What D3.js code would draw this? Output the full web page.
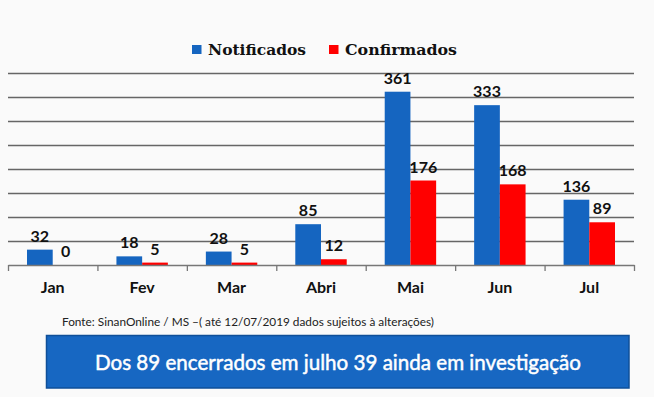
<!DOCTYPE html>
<html><head><meta charset="utf-8">
<script src="https://cdn.jsdelivr.net/npm/d3@7"></script>
<style>
html,body{margin:0;padding:0;background:#fafafa;}
svg{display:block;}
</style></head>
<body>
<svg id="chart" width="654" height="397"></svg>
<script>
const months = ["Jan","Fev","Mar","Abri","Mai","Jun","Jul"];
const series = ["Notificados","Confirmados"];
const notificados = [32,18,28,85,361,333,136];
const confirmados = [0,5,5,12,176,168,89];
const colors = ["#1565c0","#ff0000"];
const yTicks = [0,50,100,150,200,250,300,350,400];
const sourceText = "Fonte: SinanOnline / MS –( até 12/07/2019 dados sujeitos à alterações)";
const boxText = "Dos 89 encerrados em julho 39 ainda em investigação";

const values = [notificados, confirmados];
const svg = d3.select("#chart");
const plotLeft = 8, plotRight = 634, plotTop = 73, plotBase = 265;

const x = d3.scaleBand().domain(months).range([plotLeft,plotRight]).paddingInner(0.425).paddingOuter(0.2125);
const x1 = d3.scaleBand().domain(series).range([0,x.bandwidth()]).padding(0);
const y = d3.scaleLinear().domain([0,400]).range([plotBase,plotTop]);

// gridlines
const grid = svg.append("g").attr("transform",`translate(${plotLeft},0)`)
  .call(d3.axisLeft(y).tickValues(yTicks.slice(1)).tickSize(-(plotRight-plotLeft)).tickFormat(""));
grid.select(".domain").remove();
grid.selectAll("line").attr("stroke","#666").attr("stroke-width",1.3);

// bars
series.forEach((s,si)=>{
  svg.append("g").selectAll("rect").data(months).join("rect")
    .attr("x",m=>x(m)+x1(s))
    .attr("y",(m,i)=>y(values[si][i]))
    .attr("width",x1.bandwidth())
    .attr("height",(m,i)=>plotBase-y(values[si][i]))
    .attr("fill",colors[si]);
  svg.append("g").selectAll("text").data(months).join("text")
    .attr("x",m=>x(m)+x1(s)+x1.bandwidth()/2)
    .attr("y",(m,i)=>y(values[si][i])-8)
    .attr("text-anchor","middle")
    .attr("font-family","Lato, 'Open Sans', sans-serif")
    .attr("font-weight","bold").attr("font-size",16).attr("fill","#111")
    .text((m,i)=>values[si][i]);
});

// boundary ticks + baseline
const xi = d3.scaleLinear().domain([0,months.length]).range([plotLeft,plotRight]);
const tickAxis = svg.append("g").attr("transform",`translate(0,${plotBase})`)
  .call(d3.axisBottom(xi).tickValues(d3.range(months.length+1)).tickSize(6).tickFormat("").tickSizeOuter(0));
tickAxis.selectAll("line,path").attr("stroke","#777").attr("stroke-width",1.3);

// category labels
const labAxis = svg.append("g").attr("transform",`translate(0,${plotBase})`)
  .call(d3.axisBottom(x).tickSize(0).tickPadding(17));
labAxis.select(".domain").remove();
labAxis.selectAll("text").attr("font-family","Lato, 'Open Sans', sans-serif")
  .attr("font-weight","bold").attr("font-size",16).attr("fill","#111");

// legend
const legend = [{x:192,tx:208,w:98},{x:329,tx:345,w:112}];
series.forEach((s,si)=>{
  svg.append("rect").attr("x",legend[si].x).attr("y",45).attr("width",9.5).attr("height",9).attr("fill",colors[si]);
  svg.append("text").attr("x",legend[si].tx).attr("y",54.5)
    .attr("font-family","'DejaVu Serif', serif").attr("font-weight","bold").attr("font-size",15.5)
    .attr("fill","#111").attr("textLength",legend[si].w).attr("lengthAdjust","spacingAndGlyphs")
    .text(s);
});

// source
svg.append("text").attr("x",62).attr("y",326)
  .attr("font-family","Lato, 'Open Sans', sans-serif").attr("font-size",11).attr("fill","#222")
  .attr("textLength",372).attr("lengthAdjust","spacingAndGlyphs").text(sourceText);

// box
svg.append("rect").attr("x",46.5).attr("y",335.5).attr("width",582.5).attr("height",52.5)
  .attr("fill","#1767c2").attr("stroke","#0f4f99").attr("stroke-width",1.5);
svg.append("text").attr("x",338).attr("y",370).attr("text-anchor","middle")
  .attr("font-family","Lato, 'Open Sans', sans-serif").attr("font-size",22).attr("fill","#fff")
  .attr("stroke","#fff").attr("stroke-width",0.5)
  .attr("textLength",486).attr("lengthAdjust","spacingAndGlyphs").text(boxText);
</script>
</body></html>
